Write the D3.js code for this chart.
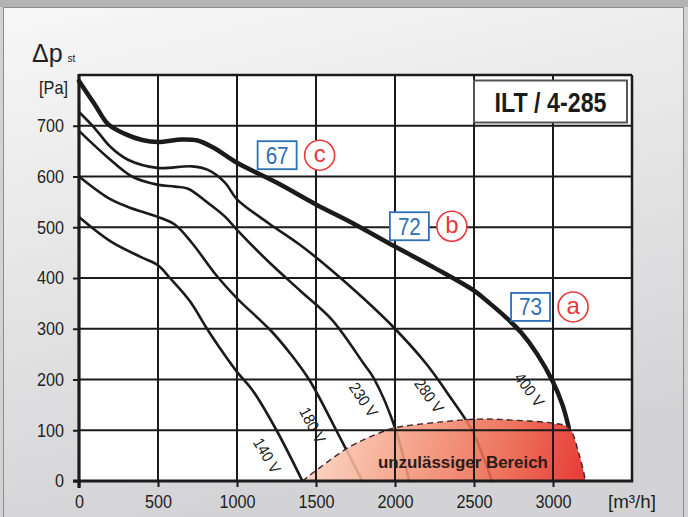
<!DOCTYPE html>
<html>
<head>
<meta charset="utf-8">
<script src="https://cdn.jsdelivr.net/npm/d3@7"></script>
<style>
  body { margin: 0; background: #c9c9c9; }
  svg { display: block; }
  text { font-family: "Liberation Sans Narrow", "Arial Narrow", "Liberation Sans", Arial, sans-serif; }
</style>
</head>
<body>
<script>
// Fan curves ILT / 4-285 : static pressure [Pa] against air flow [m3/h]
const curveNames = ["140 V", "180 V", "230 V", "280 V", "400 V"];

const flow140 = [0, 200, 400, 500, 575, 700, 810, 900, 1000, 1100, 1250, 1414];
const dp140   = [520, 472, 440, 425, 400, 355, 300, 258, 215, 178, 100, 0];

const flow180 = [0, 184, 310, 494, 608, 715, 870, 1000, 1209, 1335, 1458, 1628, 1793];
const dp180   = [600, 558, 540, 521, 505, 469, 405, 360, 298, 252, 199, 100, 0];

const flow230 = [0, 184, 335, 494, 608, 690, 816, 924, 1000, 1200, 1400, 1600, 1800, 1870, 2000, 2090];
const dp230   = [690, 637, 600, 584, 580, 576, 548, 521, 495, 432, 375, 318, 232, 200, 105, 0];

const flow280 = [0, 100, 200, 310, 494, 715, 816, 924, 1000, 1200, 1400, 1600, 1800, 2000, 2200, 2350, 2487, 2614];
const dp280   = [727, 695, 658, 633, 617, 620, 613, 588, 555, 508, 465, 415, 360, 300, 230, 165, 100, 0];

const flow400 = [0, 100, 184, 290, 400, 500, 650, 750, 850, 1000, 1250, 1500, 1750, 2000, 2250, 2500, 2600, 2700, 2800, 2900, 3000, 3060, 3100];
const dp400   = [788, 742, 703, 684, 672, 668, 673, 671, 657, 627, 588, 545, 505, 462, 420, 375, 350, 323, 292, 250, 195, 150, 105];

// not permitted operating range
const zoneFlow = [1414, 1711, 1920, 2000, 2279, 2532, 2742, 2995, 3100, 3163, 3207];
const zoneDp   = [0, 67, 97, 105, 116, 122, 120, 114, 105, 55, 0];

// curve labels (centre, data units)
const labelFlow = [1190, 1478, 1800, 2215, 2850];
const labelDp   = [50, 110, 160, 168, 180];

// efficiency badges
const badgeNums    = ["67", "72", "73"];
const badgeLetters = ["c", "b", "a"];
const badgeFlow    = [1254, 2091, 2858];
const badgeDp      = [642, 502, 343];

const xTicks = [0, 500, 1000, 1500, 2000, 2500, 3000];
const yTicks = [0, 100, 200, 300, 400, 500, 600, 700];

const W = 688, H = 517;
const margin = {top: 75, right: 56, bottom: 36, left: 79};
const width = W - margin.left - margin.right,
      height = H - margin.top - margin.bottom;

const svg = d3.select("body").append("svg")
  .attr("width", W).attr("height", H);

const defs = svg.append("defs");
const bg = defs.append("linearGradient").attr("id", "panel")
  .attr("x1", 0).attr("y1", 0).attr("x2", 0.3).attr("y2", 1);
bg.append("stop").attr("offset", 0).attr("stop-color", "#f7f7f7");
bg.append("stop").attr("offset", 1).attr("stop-color", "#d3d3d5");

// outer frame
svg.append("rect").attr("width", W).attr("height", H).attr("fill", "#d2d2d2");
svg.append("rect").attr("width", W).attr("height", 7).attr("fill", "#b3b3b3");
svg.append("rect").attr("x", 3.5).attr("y", 7.5).attr("width", 680).attr("height", 512)
  .attr("fill", "url(#panel)").attr("stroke", "#8c8c8c").attr("stroke-width", 1);

const x = d3.scaleLinear().domain([0, 3500]).range([0, width]);
const y = d3.scaleLinear().domain([0, 800]).range([height, 0]);

const g = svg.append("g").attr("transform", `translate(${margin.left},${margin.top})`);

const zg = defs.append("linearGradient").attr("id", "zone")
  .attr("gradientUnits", "userSpaceOnUse")
  .attr("x1", x(1500)).attr("y1", y(130)).attr("x2", x(3200)).attr("y2", y(0));
zg.append("stop").attr("offset", 0).attr("stop-color", "#fbd2c0");
zg.append("stop").attr("offset", 0.35).attr("stop-color", "#f49a7e");
zg.append("stop").attr("offset", 0.7).attr("stop-color", "#ec6148");
zg.append("stop").attr("offset", 1).attr("stop-color", "#e2201b");

g.append("rect").attr("width", width).attr("height", height).attr("fill", "#fff");

// curves
const series = [
  [flow140, dp140], [flow180, dp180], [flow230, dp230], [flow280, dp280], [flow400, dp400]
].map(([f, p]) => f.map((v, i) => [v, p[i]]));

const line = d3.line().x(d => x(d[0])).y(d => y(d[1])).curve(d3.curveCatmullRom.alpha(0.5));

g.selectAll(".fan").data(series).join("path")
  .attr("class", "fan")
  .attr("d", line)
  .attr("fill", "none")
  .attr("stroke", "#1b1b1b")
  .attr("stroke-width", (d, i) => i === 4 ? 4.5 : 2.6)
  .attr("stroke-linecap", "round");

// forbidden area
const zone = zoneFlow.map((v, i) => [v, zoneDp[i]]);
const zoneLine = d3.line().x(d => x(d[0])).y(d => y(d[1])).curve(d3.curveCatmullRom);
g.append("path").attr("d", zoneLine(zone) + "Z")
  .attr("fill", "url(#zone)").attr("opacity", 0.88);
g.append("path").attr("d", zoneLine(zone))
  .attr("fill", "none").attr("stroke", "#3a2a28").attr("stroke-width", 1.4)
  .attr("stroke-dasharray", "6,4");

// grid
g.append("g").selectAll("line").data(xTicks.slice(1)).join("line")
  .attr("x1", d => x(d)).attr("x2", d => x(d)).attr("y1", 0).attr("y2", height)
  .attr("stroke", "#1b1b1b").attr("stroke-width", 2);
g.append("g").selectAll("line").data(yTicks.slice(1)).join("line")
  .attr("y1", d => y(d)).attr("y2", d => y(d)).attr("x1", 0).attr("x2", width)
  .attr("stroke", "#1b1b1b").attr("stroke-width", 2);

g.append("text").attr("x", x(2430)).attr("y", y(0) - 13)
  .attr("text-anchor", "middle")
  .attr("font-size", 17).attr("font-weight", "bold").attr("fill", "#2a1d1b")
  .attr("textLength", 170).attr("lengthAdjust", "spacingAndGlyphs")
  .text("unzulässiger  Bereich");

// axes
const yAxis = g.append("g").call(d3.axisLeft(y).tickValues(yTicks).tickFormat(d3.format("d")).tickSize(6).tickPadding(9));
const xAxis = g.append("g").attr("transform", `translate(0,${height})`)
  .call(d3.axisBottom(x).tickValues(xTicks).tickFormat(d3.format("d")).tickSize(6).tickPadding(8));
[yAxis, xAxis].forEach(a => {
  a.select(".domain").remove();
  a.selectAll(".tick line").attr("stroke", "#1b1b1b").attr("stroke-width", 2);
  a.selectAll(".tick text").attr("font-size", 18).attr("fill", "#222")
    .style("font-family", '"Liberation Sans Narrow", "Arial Narrow", "Liberation Sans", sans-serif')
    .attr("textLength", d => String(d).length * 9).attr("lengthAdjust", "spacingAndGlyphs");
});

// frame
g.append("line").attr("x1", 0).attr("x2", width).attr("y1", 0).attr("y2", 0)
  .attr("stroke", "#1b1b1b").attr("stroke-width", 2.5);
g.append("line").attr("x1", width).attr("x2", width).attr("y1", 0).attr("y2", height)
  .attr("stroke", "#1b1b1b").attr("stroke-width", 2.5);
g.append("line").attr("x1", 0).attr("x2", 0).attr("y1", -1).attr("y2", height + 7)
  .attr("stroke", "#1b1b1b").attr("stroke-width", 3.2);
g.append("line").attr("x1", -6).attr("x2", width + 1.2).attr("y1", height).attr("y2", height)
  .attr("stroke", "#1b1b1b").attr("stroke-width", 3.2);

// curve labels rotated along curve
curveNames.forEach((name, i) => {
  const pts = series[i];
  const q = labelFlow[i];
  let k = pts.findIndex(p => p[0] > q);
  if (k < 1) k = pts.length - 1;
  const a = pts[k - 1], b = pts[k];
  const ang = Math.atan2(y(b[1]) - y(a[1]), x(b[0]) - x(a[0])) * 180 / Math.PI;
  g.append("text")
    .attr("transform", `translate(${x(q)},${y(labelDp[i])}) rotate(${ang})`)
    .attr("text-anchor", "middle").attr("dominant-baseline", "central")
    .attr("font-size", 16).attr("fill", "#1b1b1b")
    .attr("textLength", 38).attr("lengthAdjust", "spacingAndGlyphs")
    .text(name);
});

// badges
badgeNums.forEach((n, i) => {
  const cx = x(badgeFlow[i]), cy = y(badgeDp[i]);
  g.append("rect").attr("x", cx - 19.5).attr("y", cy - 14).attr("width", 39).attr("height", 28)
    .attr("fill", "#fff").attr("stroke", "#2d6fb8").attr("stroke-width", 1.8);
  g.append("text").attr("x", cx).attr("y", cy + 8.5).attr("text-anchor", "middle")
    .attr("font-size", 24).attr("fill", "#2d6fb8")
    .attr("textLength", 23).attr("lengthAdjust", "spacingAndGlyphs").text(n);
  g.append("circle").attr("cx", cx + 42.5).attr("cy", cy).attr("r", 15)
    .attr("fill", "#fff").attr("stroke", "#e8383a").attr("stroke-width", 1.6);
  g.append("text").attr("x", cx + 42.5).attr("y", cy + 7).attr("text-anchor", "middle")
    .attr("font-size", 24).attr("fill", "#e8383a").text(badgeLetters[i]);
});

// title box
g.append("rect").attr("x", 395).attr("y", 5.5).attr("width", 153).attr("height", 42)
  .attr("fill", "#fff").attr("stroke", "#555").attr("stroke-width", 2);
g.append("text").attr("x", 471.5).attr("y", 37).attr("text-anchor", "middle")
  .attr("font-size", 27).attr("font-weight", "bold").attr("fill", "#1b1b1b")
  .attr("textLength", 112).attr("lengthAdjust", "spacingAndGlyphs")
  .text("ILT / 4-285");

// axis titles
const t = svg.append("text").attr("x", 32).attr("y", 62).attr("fill", "#222");
t.append("tspan").attr("font-size", 25).text("Δp");
t.append("tspan").attr("font-size", 10).attr("dx", 5).text("st");
svg.append("text").attr("x", 68).attr("y", 94).attr("text-anchor", "end")
  .attr("font-size", 19).attr("fill", "#222")
  .attr("textLength", 29).attr("lengthAdjust", "spacingAndGlyphs").text("[Pa]");
svg.append("text").attr("x", margin.left + x(3500)).attr("y", 508).attr("text-anchor", "middle")
  .attr("font-size", 19).attr("fill", "#222")
  .attr("textLength", 48).attr("lengthAdjust", "spacingAndGlyphs").text("[m³/h]");
</script>
</body>
</html>
